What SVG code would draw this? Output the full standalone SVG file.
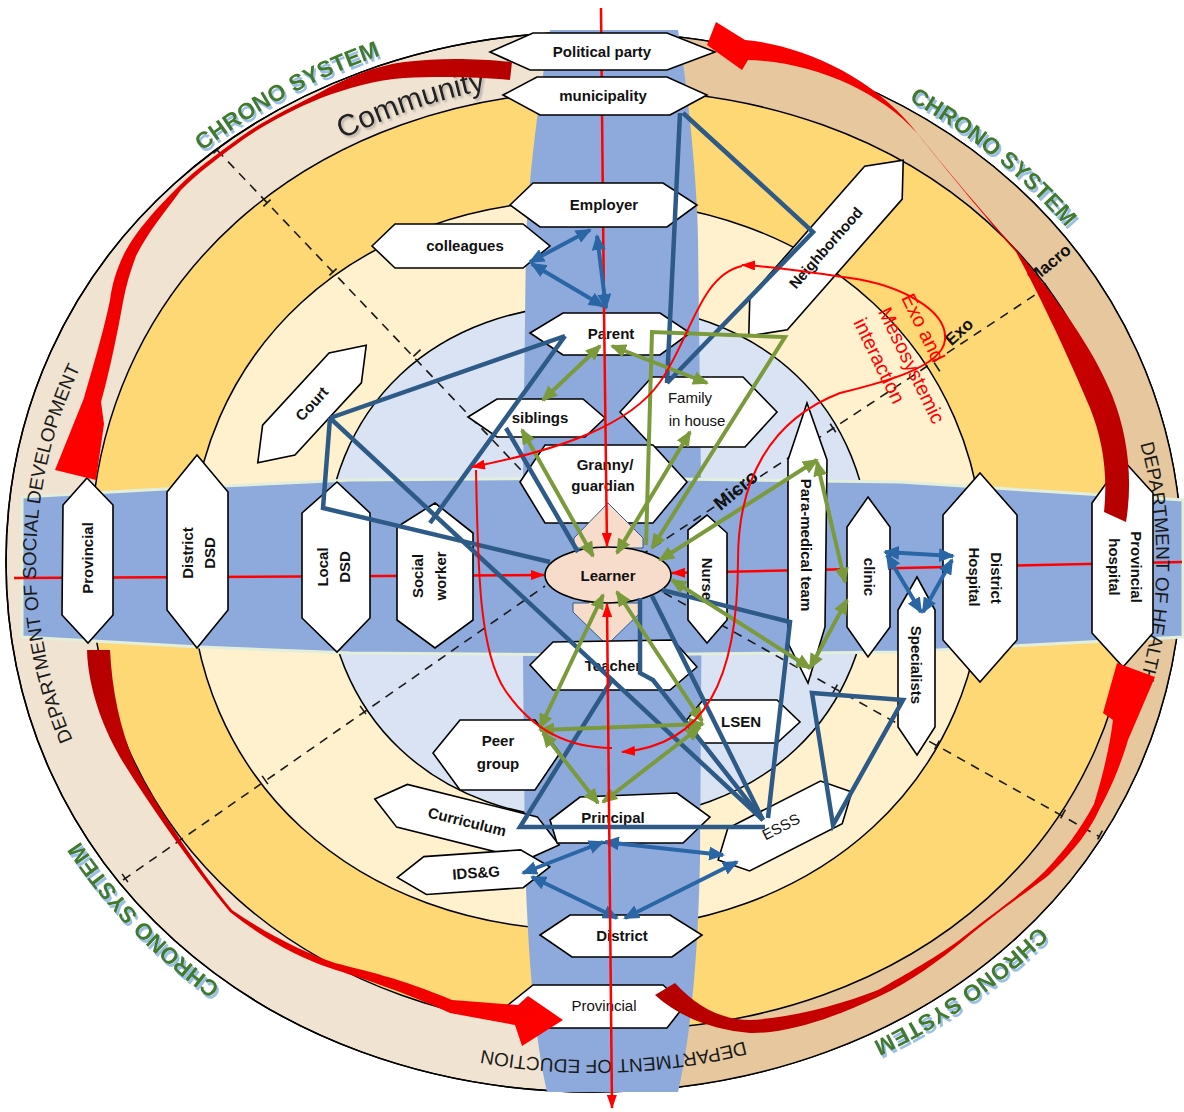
<svg xmlns="http://www.w3.org/2000/svg" xmlns:xlink="http://www.w3.org/1999/xlink" width="1184" height="1112" viewBox="0 0 1184 1112">
  <style>
    .ring{stroke:#000;stroke-width:1.5}
    .hex{fill:#fff;stroke:#000;stroke-width:1.6;stroke-linejoin:miter}
    .lbl{font-family:"Liberation Sans",Arial,sans-serif;font-size:15px;font-weight:bold;fill:#111;text-anchor:middle}
    .reg{font-weight:normal}
    .dept{font-family:"Liberation Sans",Arial,sans-serif;font-size:19px;fill:#1a1a1a}
    .chrono{font-family:"Liberation Sans",Arial,sans-serif;font-size:23px;font-weight:bold;fill:#3f7a2a;filter:url(#blueShadow)}
    .ringlbl{font-family:"Liberation Sans",Arial,sans-serif;font-weight:bold;fill:#111;text-anchor:middle}
    .dash{fill:none;stroke:#1a1a1a;stroke-width:1.6;stroke-dasharray:9 7}
    .tick{fill:none;stroke:#1a1a1a;stroke-width:1.6}
    .axis{fill:none;stroke:#ff0000;stroke-width:2.5}
    .rcurve{fill:none;stroke:#ff0000;stroke-width:2}
    .dblue{fill:none;stroke:#2d5a86;stroke-width:4.5;stroke-linejoin:miter}
    .barr{fill:none;stroke:#2a66a6;stroke-width:4;marker-start:url(#mB);marker-end:url(#mB)}
    .garr{fill:none;stroke:#7b9a3c;stroke-width:4;marker-start:url(#mG);marker-end:url(#mG)}
    .gline{fill:none;stroke:#7b9a3c;stroke-width:4}
    .redtxt{font-family:"Liberation Sans",Arial,sans-serif;font-size:20px;fill:#ff0000}
  </style>
  <defs>
    <path id="e1" d="M1182,562 C1182,864.1 929.2,1092 594,1092 C258.8,1092 6,864.1 6,562 C6,259.9 258.8,32 594,32 C929.2,32 1182,259.9 1182,562Z"/>
    <path id="e2" d="M1134,560 C1134,835 917.4,1030 612,1030 C306.6,1030 90,835 90,560 C90,285 306.6,90 612,90 C917.4,90 1134,285 1134,560Z"/>
    <path id="e3" d="M984,565 C984,778.5 819.2,930 587,930 C354.8,930 190,778.5 190,565 C190,351.5 354.8,200 587,200 C819.2,200 984,351.5 984,565Z"/>
    <path id="e4" d="M871,562 C871,716.8 761.8,820 598,820 C434.2,820 325,716.8 325,562 C325,407.2 434.2,304 598,304 C761.8,304 871,407.2 871,562Z"/>
    <clipPath id="rightHalf"><rect x="598" y="0" width="600" height="1112"/></clipPath>
    <filter id="blueShadow" x="-10%" y="-30%" width="120%" height="160%">
      <feDropShadow dx="2" dy="3" stdDeviation="0.6" flood-color="#9cc0e4" flood-opacity="1"/>
    </filter>
    <filter id="greyShadow" x="-10%" y="-30%" width="120%" height="160%">
      <feDropShadow dx="2" dy="2" stdDeviation="1.2" flood-color="#8a8a8a" flood-opacity="0.6"/>
    </filter>
    <path id="arcT1" d="M127.7,220.9 A600,542 0 0 1 479.5,30"/>
    <path id="arcT2" d="M818.8,59.5 A600,542 0 0 1 1123.8,307.5"/>
    <path id="arcT3" d="M303.1,1036 A600,542 0 0 1 33.9,756.2"/>
    <path id="arcT4" d="M1102.8,849.2 A600,542 0 0 1 779.4,1077.5"/>
    <path id="arcDSD" d="M160.4,875.4 A558,498 0 0 1 172.9,235.3"/>
    <path id="arcDOH" d="M1024.8,241.9 A562,498 0 0 1 1024.8,882.1"/>
    <path id="arcDOE" d="M968.1,931.5 A558,498 0 0 1 251.4,955.1"/>
    <path id="arcCom" d="M244.4,202.8 A530,482 0 0 1 580.5,79.3"/>
    <linearGradient id="gC1" gradientUnits="userSpaceOnUse" x1="515" y1="67" x2="90" y2="460">
      <stop offset="0" stop-color="#b50000"/><stop offset="0.5" stop-color="#e00000"/><stop offset="1" stop-color="#ff0000"/>
    </linearGradient>
    <linearGradient id="gC2" gradientUnits="userSpaceOnUse" x1="1120" y1="515" x2="710" y2="45">
      <stop offset="0" stop-color="#b50000"/><stop offset="0.5" stop-color="#e00000"/><stop offset="1" stop-color="#ff0000"/>
    </linearGradient>
    <linearGradient id="gC3" gradientUnits="userSpaceOnUse" x1="98" y1="650" x2="560" y2="1020">
      <stop offset="0" stop-color="#b50000"/><stop offset="0.5" stop-color="#e00000"/><stop offset="1" stop-color="#ff0000"/>
    </linearGradient>
    <linearGradient id="gC4" gradientUnits="userSpaceOnUse" x1="665" y1="990" x2="1120" y2="680">
      <stop offset="0" stop-color="#b50000"/><stop offset="0.5" stop-color="#e00000"/><stop offset="1" stop-color="#ff0000"/>
    </linearGradient>
    <marker id="mG" viewBox="0 0 16 14" refX="14" refY="7" markerWidth="16" markerHeight="14" markerUnits="userSpaceOnUse" orient="auto-start-reverse">
      <path d="M0,0 L16,7 L0,14 Z" fill="#7b9a3c"/>
    </marker>
    <marker id="mB" viewBox="0 0 16 14" refX="14" refY="7" markerWidth="16" markerHeight="14" markerUnits="userSpaceOnUse" orient="auto-start-reverse">
      <path d="M0,0 L16,7 L0,14 Z" fill="#2a66a6"/>
    </marker>
    <marker id="mR" viewBox="0 0 14 10" refX="13" refY="5" markerWidth="14" markerHeight="10" markerUnits="userSpaceOnUse" orient="auto-start-reverse">
      <path d="M0,0 L14,5 L0,10 Z" fill="#ff0000"/>
    </marker>
  </defs>

  <rect width="1184" height="1112" fill="#ffffff"/>

  <!-- concentric system rings -->
  <g id="rings">
    <use href="#e1" class="ring" fill="#f1e3d1"/>
    <use href="#e1" fill="#e6c79e" clip-path="url(#rightHalf)"/>
    <use href="#e1" fill="none" class="ring"/>
    <use href="#e2" class="ring" fill="#fdd874"/>
    <use href="#e3" class="ring" fill="#fff1cd"/>
    <use href="#e4" class="ring" fill="#dae3f3"/>
  </g>

  <!-- department axes -->
  <g id="strips">
    <path d="M550,30 L678,30 C688,90 697,180 698,240 L702,560 L700,860 C698,960 690,1040 678,1092 L547,1092 C535,1040 528,960 525,860 L522,560 L526,240 C528,180 540,90 550,30 Z" fill="#8eaadc"/>
    <path d="M22,497 L200,487 L350,480 L600,478 L900,482 L1183,500 L1183,637 L900,652 L600,655 L350,653 L200,647 L22,637 Z" fill="#8eaadc" stroke="#e3efda" stroke-width="3"/>
  </g>

  <!-- sector dividers -->
  <g id="dividers">
    <path class="dash" d="M217,150 L540,490"/>
    <path class="dash" d="M123,880 L545,586"/>
    <path class="dash" d="M650,585 L1100,837"/>
    <path class="dash" d="M640,556 L1047,287"/>
    <path class="tick" d="M213.4,153.4 L220.6,146.6 M263.4,206.4 L270.6,199.6 M329.4,275.4 L336.6,268.6 M413.4,356.4 L420.6,349.6 M122.1,873.9 L127.9,882.1 M177.1,837.9 L182.9,846.1 M262.1,775.9 L267.9,784.1 M360.1,705.9 L365.9,714.1 M837.4,684.6 L832.6,693.4 M939.4,740.6 L934.6,749.4 M1065.4,809.6 L1060.6,818.4 M1102.4,830.6 L1097.6,839.4 M830.2,423.8 L835.8,432.2 M934.2,362.8 L939.8,371.2 M1044.2,282.8 L1049.8,291.2"/>
  </g>

  <!-- axis lines passing behind the boxes -->
  <g id="axes-back">
    <path class="axis" d="M14,578 L544,575" marker-end="url(#mR)"/>
    <path class="axis" d="M1182,562 L672,573" marker-end="url(#mR)"/>
    <path class="axis" d="M601,8 L604,310"/>
  </g>

  <!-- band captions -->
  <g id="captions">
    <text class="dept"><textPath href="#arcDSD" startOffset="50%" text-anchor="middle">DEPARTMENT OF SOCIAL DEVELOPMENT</textPath></text>
    <text class="dept"><textPath href="#arcDOH" startOffset="50%" text-anchor="middle">DEPARTMENT OF HEALTH</textPath></text>
    <text class="dept"><textPath href="#arcDOE" startOffset="50%" text-anchor="middle">DEPARTMENT OF EDUCTION</textPath></text>
    <text font-family="Liberation Sans, Arial, sans-serif" font-size="30" fill="#222" filter="url(#greyShadow)"><textPath href="#arcCom" startOffset="53%" text-anchor="middle">Community</textPath></text>
    <text class="chrono"><textPath href="#arcT1" startOffset="50%" text-anchor="middle">CHRONO SYSTEM</textPath></text>
    <text class="chrono"><textPath href="#arcT2" startOffset="50%" text-anchor="middle">CHRONO SYSTEM</textPath></text>
    <text class="chrono"><textPath href="#arcT3" startOffset="50%" text-anchor="middle">CHRONO SYSTEM</textPath></text>
    <text class="chrono"><textPath href="#arcT4" startOffset="50%" text-anchor="middle">CHRONO SYSTEM</textPath></text>
    <text class="ringlbl" font-size="17" transform="translate(1053,268) rotate(-40)">Macro</text>
    <text class="ringlbl" font-size="17" transform="translate(963,336) rotate(-42)">Exo</text>
    <text class="ringlbl" font-size="19" transform="translate(740,495) rotate(-40)">Micro</text>
  </g>

  <!-- nodes -->
  <g id="nodes">
    <g id="political-party"><polygon class="hex" points="490,52 533,33 667,33 715,52 667,70 530,70"/><text class="lbl" x="602" y="57">Political party</text></g>
    <g id="municipality"><polygon class="hex" points="503,95 537,77 667,77 707,95 670,115 540,115"/><text class="lbl" x="603" y="101">municipality</text></g>
    <g id="employer"><polygon class="hex" points="510,205 533,183 663,183 697,205 667,227 540,227"/><text class="lbl" x="604" y="210">Employer</text></g>
    <g id="colleagues"><polygon class="hex" points="372,246 395,224 523,224 550,246 523,268 395,268"/><text class="lbl" x="465" y="251">colleagues</text></g>
    <g id="neighborhood" transform="translate(826,248) rotate(-48.7)"><polygon class="hex" points="-117,0 -87,-25 87,-25 117,0 87,25 -87,25"/><text class="lbl" x="0" y="5">Neighborhood</text></g>
    <g id="court" transform="translate(312,404) rotate(-47.3)"><polygon class="hex" points="-80,0 -49,-22 49,-22 80,0 49,22 -49,22"/><text class="lbl" x="0" y="5">Court</text></g>
    <g id="parent"><polygon class="hex" points="530,333 563,313 660,313 690,333 660,355 563,355"/><text class="lbl" x="611" y="339">Parent</text></g>
    <g id="siblings"><polygon class="hex" points="468,417 497,399 583,399 605,418 585,437 497,437"/><text class="lbl" x="540" y="423">siblings</text></g>
    <g id="family-in-house"><polygon class="hex" points="620,412 652,377 743,377 777,412 745,447 653,447"/><text class="lbl reg" x="690" y="403">Family</text><text class="lbl reg" x="697" y="426">in house</text></g>
    <g id="granny-guardian"><polygon class="hex" points="520,482 545,445 653,445 687,482 653,523 545,523"/><text class="lbl" x="605" y="470">Granny/</text><text class="lbl" x="603" y="491">guardian</text></g>
    <g id="learner">
      <path d="M608,503 L643,538 L643,548 L627,548 L627,552 L589,552 L589,548 L574,548 L574,538 Z" fill="#f8dccb" stroke="#2d5a86" stroke-width="1"/>
      <path d="M589,598 L627,598 L627,603 L641,603 L641,612 L607,645 L573,612 L573,603 L589,603 Z" fill="#f8dccb" stroke="#2d5a86" stroke-width="1"/>
      <ellipse cx="608" cy="575" rx="63" ry="28" fill="#f8dccb" stroke="#000" stroke-width="1.6"/>
      <text class="lbl" x="608" y="581">Learner</text>
    </g>
    <g id="teacher"><polygon class="hex" points="530,665 553,642 673,640 697,667 670,690 553,690"/><text class="lbl" x="613" y="671">Teacher</text></g>
    <g id="lsen"><polygon class="hex" points="685,722 703,700 777,700 800,722 777,743 703,743"/><text class="lbl" x="741" y="727">LSEN</text></g>
    <g id="peer-group"><polygon class="hex" points="433,753 460,720 535,720 560,753 535,790 460,790"/><text class="lbl" x="498" y="746">Peer</text><text class="lbl" x="498" y="769">group</text></g>
    <g id="curriculum" transform="translate(467,822) rotate(14)"><polygon class="hex" points="-95,0 -67,-22 67,-22 95,0 67,22 -67,22"/><text class="lbl" x="0" y="5">Curriculum</text></g>
    <g id="principal"><polygon class="hex" points="550,820 580,797 677,793 710,817 683,843 557,843"/><text class="lbl" x="613" y="823">Principal</text></g>
    <g id="esss" transform="translate(785,826) rotate(-27)"><polygon class="hex" points="-75,0 -52,-24 52,-24 75,0 52,24 -52,24"/><text class="lbl reg" x="-4" y="4">ESSS</text></g>
    <g id="ids-g" transform="rotate(-4 476 872)"><polygon class="hex" points="397,872 425,853 522,853 550,872 522,891 425,891"/><text class="lbl" x="476" y="878">IDS&amp;G</text></g>
    <g id="district"><polygon class="hex" points="540,935 570,915 670,915 702,935 672,957 572,957"/><text class="lbl" x="622" y="941">District</text></g>
    <g id="provincial-edu"><polygon class="hex" points="508,1005 533,985 663,985 685,1005 667,1028 537,1028"/><text class="lbl reg" x="604" y="1011">Provincial</text></g>

    <g id="provincial-dsd"><polygon class="hex" points="87,478 113,505 113,615 88,643 62,615 63,505"/><text class="lbl" transform="translate(93,558) rotate(-90)">Provincial</text></g>
    <g id="district-dsd"><polygon class="hex" points="197,455 228,492 228,610 197,648 167,610 167,492"/><text class="lbl" transform="translate(193,553) rotate(-90)">District</text><text class="lbl" transform="translate(215,553) rotate(-90)">DSD</text></g>
    <g id="local-dsd"><polygon class="hex" points="337,482 370,513 370,618 337,652 302,618 302,513"/><text class="lbl" transform="translate(328,567) rotate(-90)">Local</text><text class="lbl" transform="translate(350,567) rotate(-90)">DSD</text></g>
    <g id="social-worker"><polygon class="hex" points="435,503 473,533 473,620 435,648 397,620 397,527"/><text class="lbl" transform="translate(423,576) rotate(-90)">Social</text><text class="lbl" transform="translate(446,576) rotate(-90)">worker</text></g>
    <g id="nurse"><polygon class="hex" points="707,515 727,533 727,620 707,643 688,620 688,530"/><text class="lbl" transform="translate(702,579) rotate(90)">Nurse</text></g>
    <g id="para-medical-team"><polygon class="hex" points="807,403 827,460 825,627 808,683 788,643 788,460"/><text class="lbl" transform="translate(801,545) rotate(90)">Para-medical team</text></g>
    <g id="clinic"><polygon class="hex" points="868,497 890,527 890,627 868,657 847,627 847,527"/><text class="lbl" transform="translate(864,577) rotate(90)">clinic</text></g>
    <g id="specialists"><polygon class="hex" points="917,577 935,610 935,727 917,755 898,727 898,610"/><text class="lbl" transform="translate(911,665) rotate(90)">Specialists</text></g>
    <g id="district-hospital"><polygon class="hex" points="980,473 1017,515 1017,640 980,682 943,640 943,515"/><text class="lbl" transform="translate(991,578) rotate(90)">District</text><text class="lbl" transform="translate(969,577) rotate(90)">Hospital</text></g>
    <g id="provincial-hospital"><polygon class="hex" points="1123,460 1153,493 1153,633 1123,667 1092,633 1092,503"/><text class="lbl" transform="translate(1131,567) rotate(90)">Provincial</text><text class="lbl" transform="translate(1109,567) rotate(90)">hospital</text></g>
  </g>

  <!-- connectors -->
  <g id="connectors">
    <!-- structural links -->
    <path class="dblue" d="M680,113 L667,383"/>
    <path class="dblue" d="M683,113 L813,232 L667,383"/>
    <path class="dblue" d="M565,336 L330,418"/>
    <path class="dblue" d="M565,336 L430,523"/>
    <path class="dblue" d="M330,418 L323,508 L550,562"/>
    <path class="dblue" d="M330,418 L763,820"/>
    <path class="dblue" d="M506,428 L578,552"/>
    <path class="dblue" d="M640,598 L640,673 L653,680 L763,820"/>
    <path class="dblue" d="M652,596 L763,820"/>
    <path class="dblue" d="M662,590 L790,622 L768,818"/>
    <path class="dblue" d="M613,678 L520,827 L765,827"/>
    <path class="dblue" d="M812,693 L903,700 L833,825 Z"/>

    <!-- two-way links -->
    <path class="barr" d="M530,262 L590,230"/>
    <path class="barr" d="M597,236 L606,308"/>
    <path class="barr" d="M532,264 L603,306"/>
    <path class="barr" d="M605,842 L723,855"/>
    <path class="barr" d="M603,842 L523,873"/>
    <path class="barr" d="M532,877 L617,918"/>
    <path class="barr" d="M625,918 L737,862"/>
    <path class="barr" d="M885,552 L953,556"/>
    <path class="barr" d="M887,555 L921,612"/>
    <path class="barr" d="M952,560 L923,612"/>

    <path class="garr" d="M600,346 L543,400"/>
    <path class="garr" d="M612,346 L707,383"/>
    <path class="garr" d="M593,556 L522,430"/>
    <path class="garr" d="M617,553 L690,432"/>
    <path class="gline" d="M646,545 L652,332 L785,337 L652,548" marker-end="url(#mG)"/>
    <path class="garr" d="M660,560 L817,460"/>
    <path class="garr" d="M817,462 L845,582"/>
    <path class="garr" d="M672,580 L810,668"/>
    <path class="garr" d="M810,668 L847,600"/>
    <path class="garr" d="M603,595 L540,728"/>
    <path class="garr" d="M617,592 L702,721"/>
    <path class="garr" d="M540,730 L703,724"/>
    <path class="garr" d="M543,733 L598,803"/>
    <path class="garr" d="M700,727 L603,802"/>

    <!-- vertical axis over the boxes -->
    <path class="axis" d="M604,310 L607,546" marker-end="url(#mR)"/>
    <path class="axis" d="M612,1108 L607,604" marker-start="url(#mR)" marker-end="url(#mR)"/>

    <!-- exo / meso interaction loops -->
    <path class="rcurve" d="M742,265 C770,266 810,272 850,278 C900,285 948,310 945,340 C942,368 880,383 840,393 C770,420 738,480 738,560 C738,680 705,745 622,752" marker-start="url(#mR)" marker-end="url(#mR)"/>
    <path class="rcurve" d="M742,266 C700,275 690,340 660,382 C630,425 560,450 472,467" marker-end="url(#mR)"/>
    <path class="rcurve" d="M476,470 C478,560 478,650 505,690 C535,735 575,748 612,748"/>
    <g class="redtxt" transform="translate(885,290) rotate(64)">
      <text x="14" y="-11">Exo and</text>
      <text x="16" y="16">Mesosystemic</text>
      <text x="15" y="43">interaction</text>
    </g>
  </g>

  <!-- chrono arrows -->
  <g id="chrono-arrows">
    <path d="M512,62 C470,58 440,58 404,62 C375,66 345,78 319,93 C290,108 265,120 242,136 C220,152 197,168 178,187 C155,210 137,230 125,252 C116,270 112,285 110,300 C104,330 92,370 84,398 L55,470 L96,480 L104,424 L101,402 C110,370 118,330 123,302 C126,286 130,272 136,256 C148,232 165,212 181,190 C200,171 222,155 244,139 C267,123 292,110 321,98 C348,88 376,80 404,78 C440,76 480,77 510,80 Z" fill="url(#gC1)"/>
    <path d="M707,45 L716,22 L745,40 C800,45 870,75 913,128 C945,168 985,215 1013,246 C1050,290 1092,345 1112,395 C1128,435 1133,480 1126,522 L1104,512 C1108,475 1103,440 1090,408 C1070,360 1042,300 1016,252 C988,220 948,172 917,133 C880,92 815,62 748,60 L742,70 Z" fill="url(#gC2)"/>
    <path d="M87,650 C88,690 105,735 128,770 C150,805 195,870 230,912 C265,940 300,958 330,968 C360,978 400,990 450,1013 L515,1025 L522,1046 L563,1020 L528,996 L518,1005 L452,1000 C400,978 362,970 335,963 C305,953 268,935 232,910 C198,868 156,806 136,766 C120,730 112,690 110,650 Z" fill="url(#gC3)"/>
    <path d="M655,995 C680,1018 715,1030 750,1033 C790,1034 840,1015 880,996 C910,982 940,960 963,941 C1000,910 1030,890 1049,875 C1075,850 1090,830 1100,808 C1115,780 1122,760 1128,740 L1155,677 L1117,663 L1103,713 L1113,720 C1110,745 1103,775 1094,804 C1080,830 1065,850 1045,871 C1020,895 1000,908 962,938 C940,955 905,975 878,990 C840,1005 790,1018 750,1020 C720,1020 695,1005 675,983 Z" fill="url(#gC4)"/>
  </g>
</svg>
